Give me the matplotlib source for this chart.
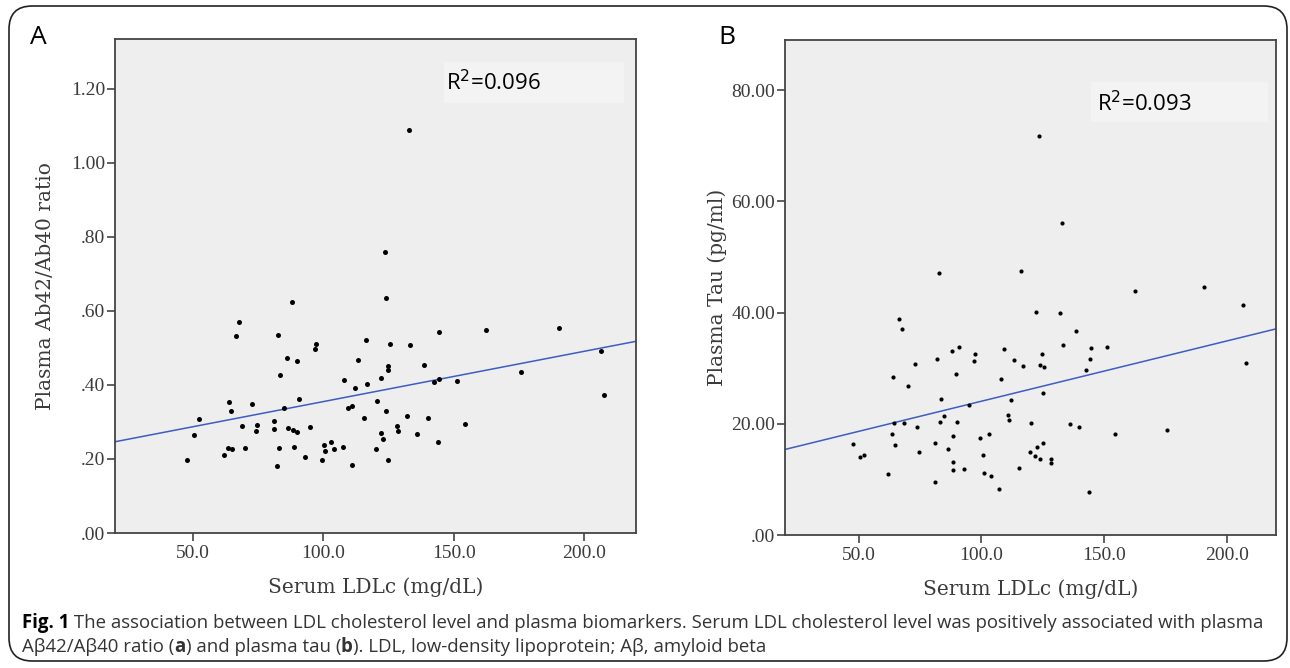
import numpy as np
import matplotlib
matplotlib.use("Agg")
import matplotlib.pyplot as plt
from matplotlib.patches import FancyBboxPatch, Rectangle

# ---------------- data ----------------
ldl_a = [47.8, 50.5, 52.1, 61.9, 63.2, 64.9, 63.9, 64.4, 66.5, 67.6, 68.6, 69.9, 72.7, 74.0,
         74.4, 81.0, 80.9, 82.1, 82.7, 83.1, 83.5, 84.7, 85.9, 88.0, 86.5, 88.3, 88.6, 89.8,
         89.7, 90.6, 92.8, 94.9, 96.9, 97.3, 99.5, 100.4, 100.8, 102.9, 104.0, 107.4, 108.0,
         109.3, 110.9, 111.0, 112.1, 113.4, 115.5, 116.2, 116.9, 120.0, 120.5, 122.0, 122.2,
         122.8, 124.0, 123.9, 124.8, 124.9, 124.9, 125.6, 128.3, 128.6, 132.0, 133.3, 135.9,
         138.8, 140.0, 142.6, 143.9, 144.4, 144.4, 151.3, 154.5, 162.4, 175.8, 190.6, 206.5,
         207.8, 133.0, 123.5]
ratio_a = [0.198, 0.266, 0.308, 0.212, 0.230, 0.226, 0.354, 0.331, 0.532, 0.571, 0.290, 0.229,
           0.348, 0.275, 0.291, 0.303, 0.280, 0.181, 0.536, 0.229, 0.428, 0.338, 0.474, 0.625,
           0.285, 0.279, 0.232, 0.274, 0.465, 0.362, 0.205, 0.287, 0.497, 0.512, 0.196, 0.238,
           0.222, 0.246, 0.226, 0.233, 0.414, 0.339, 0.343, 0.184, 0.391, 0.468, 0.310, 0.522,
           0.404, 0.227, 0.356, 0.269, 0.420, 0.254, 0.635, 0.331, 0.450, 0.440, 0.197, 0.510,
           0.290, 0.276, 0.317, 0.507, 0.267, 0.453, 0.312, 0.409, 0.245, 0.415, 0.542, 0.411,
           0.295, 0.549, 0.434, 0.555, 0.492, 0.372, 1.090, 0.760]

ldl_b = [47.7, 50.5, 52.0, 61.9, 63.4, 64.9, 64.6, 63.9, 66.5, 67.6, 68.6, 69.9, 72.8, 73.9,
         74.4, 81.0, 81.1, 82.0, 83.1, 83.5, 84.6, 86.5, 87.9, 88.3, 88.5, 88.6, 89.7, 90.0,
         90.8, 92.8, 95.0, 96.9, 97.3, 99.5, 100.5, 100.9, 103.0, 103.9, 107.3, 108.1, 109.3,
         110.9, 111.1, 112.0, 113.3, 115.5, 117.0, 119.8, 120.4, 121.9, 122.1, 122.7, 123.8,
         123.9, 124.7, 125.0, 125.0, 125.5, 128.2, 128.2, 132.0, 133.3, 135.9, 138.6, 139.8,
         142.5, 144.0, 144.4, 144.5, 151.2, 154.6, 162.4, 175.7, 190.6, 206.5, 207.8,
         123.5, 132.9, 82.8, 116.1]
tau_b = [16.38, 14.08, 14.32, 10.94, 18.13, 16.25, 20.18, 28.40, 38.91, 37.10, 20.12, 26.71,
         30.76, 19.34, 14.86, 9.61, 16.50, 31.60, 20.30, 24.47, 21.33, 15.41, 33.17, 17.82,
         11.66, 13.05, 28.94, 20.36, 33.78, 11.90, 23.38, 31.36, 32.51, 17.46, 14.44, 11.06,
         18.07, 10.69, 8.28, 28.10, 33.53, 21.57, 20.60, 24.23, 31.42, 12.02, 30.45, 14.86,
         20.18, 14.20, 40.06, 15.89, 13.60, 30.63, 32.63, 16.50, 25.56, 30.27, 13.60, 12.87,
         39.88, 34.20, 19.88, 36.68, 19.34, 29.67, 7.73, 31.60, 33.66, 33.72, 18.13, 43.87,
         18.85, 44.53, 41.33, 30.94, 71.7, 56.1, 47.1, 47.5]

x_ticks = [50, 100, 150, 200]
x_ticklabels = ["50.0", "100.0", "150.0", "200.0"]
y_ticks_a = [0.0, 0.2, 0.4, 0.6, 0.8, 1.0, 1.2]
y_ticklabels_a = [".00", ".20", ".40", ".60", ".80", "1.00", "1.20"]
y_ticks_b = [0, 20, 40, 60, 80]
y_ticklabels_b = [".00", "20.00", "40.00", "60.00", "80.00"]
r2_a = "R$^2$=0.096"
r2_b = "R$^2$=0.093"

W, H = 1290, 668
fig = plt.figure(figsize=(W / 100, H / 100), dpi=100)
fig.patch.set_facecolor("white")

# outer rounded frame
frame = FancyBboxPatch((9 / W, 7 / H), (1278) / W, (655) / H,
                       boxstyle="round,pad=0,rounding_size=0.018",
                       transform=fig.transFigure, facecolor="none",
                       edgecolor="#222222", linewidth=1.2, mutation_aspect=W / H)
fig.patches.append(frame)

serif_tick = ["Liberation Serif", "DejaVu Serif"]
serif_lab = ["DejaVu Serif"]
txtcol = "#3a3a3a"
spinecol = "#444444"


def make_panel(rect, x, y, yticks, yticklabels, ylim, ylabel, r2, r2pos, boxrect, dot,
               ylab_x):
    ax = fig.add_axes(rect)
    ax.set_facecolor("#eeeeee")
    ax.scatter(x, y, s=dot, color="black", linewidths=0, zorder=3)
    xs = np.array([20, 220])
    k, b = np.polyfit(x, y, 1)
    ax.plot(xs, k * xs + b, color="#3d5cc4", lw=1.1, zorder=2)
    ax.set_xlim(20, 220)
    ax.set_ylim(*ylim)
    ax.set_xticks(x_ticks)
    ax.set_xticklabels(x_ticklabels, family=serif_tick, fontsize=14, color=txtcol)
    ax.set_yticks(yticks)
    ax.set_yticklabels(yticklabels, family=serif_tick, fontsize=14, color=txtcol)
    ax.tick_params(direction="out", length=6, width=1.2, color=spinecol, pad=1)
    ax.tick_params(axis="x", pad=3)
    for s in ax.spines.values():
        s.set_color(spinecol)
        s.set_linewidth(1.3)
    ax.set_xlabel("Serum LDLc (mg/dL)", family=serif_lab, fontsize=14.5, color=txtcol,
                  labelpad=11)
    ax.set_ylabel(ylabel, family=serif_lab, fontsize=14.5, color=txtcol)
    ax.yaxis.set_label_coords(ylab_x, 0.5)
    ax.add_patch(Rectangle((boxrect[0], boxrect[1]), boxrect[2], boxrect[3],
                           transform=ax.transAxes, facecolor="#f3f3f3", edgecolor="none",
                           zorder=1))
    ax.text(r2pos[0], r2pos[1], r2, transform=ax.transAxes, family="Open Sans",
            fontsize=16, color="black", ha="left", va="center", zorder=4)
    return ax


axA = make_panel([115 / W, (H - 533) / H, (636 - 115) / W, (533 - 39) / H],
                 ldl_a, ratio_a, y_ticks_a, y_ticklabels_a, (0, 1.335),
                 "Plasma Ab42/Ab40 ratio", r2_a, (0.635, 0.911),
                 (0.6315, 0.8704, 0.3455, 0.083), 13, -0.115)
axB = make_panel([785 / W, (H - 535) / H, (1276 - 785) / W, (535 - 40) / H],
                 ldl_b, tau_b, y_ticks_b, y_ticklabels_b, (0, 89),
                 "Plasma Tau (pg/ml)", r2_b, (0.6354, 0.8707),
                 (0.623, 0.8343, 0.3605, 0.0807), 9, -0.118)

fig.text(38 / W, 1 - 37 / H, "A", fontsize=19, family="Open Sans", ha="center", va="center")
fig.text(727 / W, 1 - 37 / H, "B", fontsize=19, family="Open Sans", ha="center", va="center")

# caption
capcol = "#333333"
line1 = [("Fig. 1", "bold", "black"),
         (" The association between LDL cholesterol level and plasma biomarkers. Serum LDL cholesterol level was positively associated with plasma", "normal", capcol)]
line2 = [("A\u03b242/A\u03b240 ratio (", "normal", capcol), ("a", "bold", capcol),
         (") and plasma tau (", "normal", capcol), ("b", "bold", capcol),
         ("). LDL, low-density lipoprotein; A\u03b2, amyloid beta", "normal", capcol)]

fig.canvas.draw()
renderer = fig.canvas.get_renderer()


def line_width(parts, size):
    tot = 0
    for s, wt, c in parts:
        t = fig.text(0, 0, s, fontsize=size, family="Open Sans", fontweight=wt)
        tot += t.get_window_extent(renderer).width
        t.remove()
    return tot


base = 11.0
cap_size = base * 1240 / line_width(line1, base)


def draw_line(parts, x0, ybase):
    x = x0
    for s, wt, c in parts:
        t = fig.text(x / W, 1 - ybase / H, s, fontsize=cap_size, family="Open Sans",
                     fontweight=wt, color=c, ha="left", va="baseline")
        bb = t.get_window_extent(renderer)
        x += bb.width


draw_line(line1, 22, 628)
draw_line(line2, 22, 652)

fig.savefig("out.png", dpi=100)
